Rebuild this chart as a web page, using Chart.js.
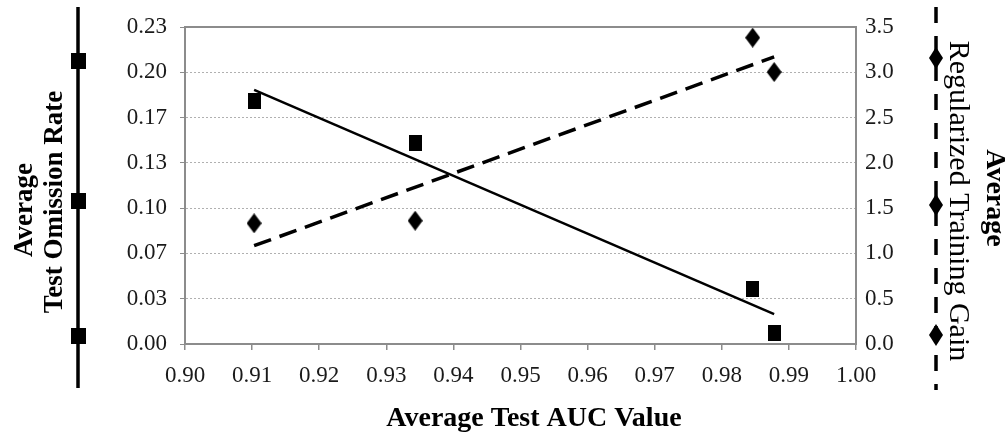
<!DOCTYPE html>
<html>
<head>
<meta charset="utf-8">
<script src="https://cdn.jsdelivr.net/npm/chart.js@4.4.1/dist/chart.umd.min.js"></script>
<style>
  html, body { margin: 0; padding: 0; background: #fff; }
  #wrap { width: 1007px; height: 433px; position: relative; }
</style>
</head>
<body>
<div id="wrap"><canvas id="myChart"></canvas></div>
<script>
// data
const aucValues      = [0.9103, 0.9343, 0.9846, 0.9878];
const omissionRates  = [0.1786, 0.1477, 0.0407, 0.0082];
const trainingGains  = [1.333, 1.361, 3.382, 3.003];

// trendline ends (as drawn)
const trendX         = [0.9103, 0.9878];
const omissionTrend  = [0.187, 0.022];
const gainTrend      = [1.085, 3.17];

// ticks
const xTickValues    = [0.90, 0.91, 0.92, 0.93, 0.94, 0.95, 0.96, 0.97, 0.98, 0.99, 1.00];
const yTickValues    = [0, 1/30, 2/30, 3/30, 4/30, 5/30, 6/30, 7/30];
const yTickLabels    = ['0.00', '0.03', '0.07', '0.10', '0.13', '0.17', '0.20', '0.23'];
const y1TickValues   = [0, 0.5, 1.0, 1.5, 2.0, 2.5, 3.0, 3.5];

const serif = "'Liberation Serif', 'Times New Roman', serif";
const ink = '#1a1a1a';

// marker images
function makeRect(w, h) {
  const c = document.createElement('canvas');
  c.width = w; c.height = h;
  const g = c.getContext('2d');
  g.fillStyle = '#000';
  g.fillRect(0, 0, w, h);
  return c;
}
function makeDiamond(w, h) {
  const c = document.createElement('canvas');
  c.width = w; c.height = h;
  const g = c.getContext('2d');
  g.fillStyle = '#000';
  g.beginPath();
  g.moveTo(w / 2, 0); g.lineTo(w, h / 2); g.lineTo(w / 2, h); g.lineTo(0, h / 2);
  g.closePath(); g.fill();
  return c;
}
const squareImg = makeRect(13, 16);
const diamondImg = makeDiamond(15, 20);
const legendSquare = makeRect(15, 16);
const legendDiamond = makeDiamond(14, 22);

const pts = (xs, ys) => xs.map((x, i) => ({ x: x, y: ys[i] }));

// side "legends" and axis title
const sideLegends = {
  id: 'sideLegends',
  beforeDraw(chart) {
    const ctx = chart.ctx;
    ctx.save();
    ctx.fillStyle = '#fff';
    ctx.fillRect(0, 0, chart.width, chart.height);
    ctx.restore();
  },
  afterDraw(chart) {
    const ctx = chart.ctx;
    const a = chart.chartArea;
    ctx.save();
    // plot frame (top + right)
    ctx.strokeStyle = '#8c8c8c';
    ctx.lineWidth = 2;
    ctx.beginPath();
    ctx.moveTo(a.left, a.top); ctx.lineTo(a.right, a.top); ctx.lineTo(a.right, a.bottom);
    ctx.stroke();

    // left: solid line with squares
    ctx.strokeStyle = '#000';
    ctx.lineWidth = 3.5;
    ctx.beginPath(); ctx.moveTo(78, 7); ctx.lineTo(78, 388); ctx.stroke();
    [61, 201, 336].forEach(y => ctx.drawImage(legendSquare, 78 - 7.5, y - 8));

    // right: dashed line with diamonds
    ctx.setLineDash([16, 13]);
    ctx.beginPath(); ctx.moveTo(936, 7); ctx.lineTo(936, 390); ctx.stroke();
    ctx.setLineDash([]);
    [58, 205, 335].forEach(y => ctx.drawImage(legendDiamond, 936 - 7, y - 11));

    ctx.fillStyle = '#000';
    ctx.textAlign = 'center';
    ctx.textBaseline = 'middle';

    // x axis title
    ctx.font = 'bold 28px ' + serif;
    ctx.fillText('Average Test AUC Value', 534, 419);

    // left label
    ctx.translate(40, 0);
    ctx.rotate(-Math.PI / 2);
    ctx.font = 'bold 27px ' + serif;
    ctx.fillText('Average', -210, -15);
    ctx.fillText('Test Omission Rate', -202, 15);
    ctx.setTransform(1, 0, 0, 1, 0, 0);

    // right label
    ctx.translate(976, 0);
    ctx.rotate(Math.PI / 2);
    ctx.font = 'bold 28px ' + serif;
    ctx.fillText('Average', 198, -18);
    ctx.font = '30px ' + serif;
    ctx.fillText('Regularized Training Gain', 201, 18);
    ctx.restore();
  }
};

const data = {
  datasets: [
    {
      label: 'Average Test Omission Rate',
      data: pts(aucValues, omissionRates),
      yAxisID: 'y',
      pointStyle: squareImg,
      showLine: false
    },
    {
      label: 'Average Regularized Training Gain',
      data: pts(aucValues, trainingGains),
      yAxisID: 'y1',
      pointStyle: diamondImg,
      showLine: false
    },
    {
      label: 'Omission trend',
      data: pts(trendX, omissionTrend),
      yAxisID: 'y',
      showLine: true,
      borderColor: '#000',
      borderWidth: 2.5,
      pointRadius: 0
    },
    {
      label: 'Gain trend',
      data: pts(trendX, gainTrend),
      yAxisID: 'y1',
      showLine: true,
      borderColor: '#000',
      borderWidth: 3.5,
      borderDash: [18, 9],
      pointRadius: 0
    }
  ]
};

const config = {
  type: 'scatter',
  data,
  plugins: [sideLegends],
  options: {
    responsive: true,
    maintainAspectRatio: false,
    animation: false,
    layout: { padding: { left: 105, right: 96, top: 27, bottom: 0 } },
    plugins: {
      legend: { display: false },
      tooltip: { enabled: false }
    },
    scales: {
      x: {
        type: 'linear',
        min: 0.9,
        max: 1.0,
        afterBuildTicks: s => { s.ticks = xTickValues.map(v => ({ value: v })); },
        afterFit: s => { s.height = 89; },
        ticks: {
          color: ink,
          font: { family: serif, size: 23 },
          padding: 12,
          maxRotation: 0,
          callback: v => Number(v).toFixed(2)
        },
        grid: { drawOnChartArea: false, tickLength: 6, color: '#8c8c8c', lineWidth: 1.5 },
        border: { color: '#8c8c8c', width: 2 }
      },
      y: {
        position: 'left',
        min: 0,
        max: 7 / 30,
        afterBuildTicks: s => { s.ticks = yTickValues.map(v => ({ value: v })); },
        afterFit: s => { s.width = 80; },
        ticks: {
          color: ink,
          font: { family: serif, size: 23 },
          padding: 13,
          callback: (v, i) => yTickLabels[i]
        },
        grid: { color: '#b0b0b0', lineWidth: 1, tickLength: 5, tickColor: '#8c8c8c' },
        border: { color: '#8c8c8c', width: 2, dash: [2, 2] }
      },
      y1: {
        position: 'right',
        min: 0,
        max: 3.5,
        afterBuildTicks: s => { s.ticks = y1TickValues.map(v => ({ value: v })); },
        afterFit: s => { s.width = 55; },
        ticks: {
          color: ink,
          font: { family: serif, size: 23 },
          padding: 9,
          callback: v => Number(v).toFixed(1)
        },
        grid: { drawOnChartArea: false, drawTicks: false },
        border: { color: '#8c8c8c', width: 2 }
      }
    }
  }
};

const myChart = new Chart(document.getElementById('myChart'), config);
</script>
</body>
</html>
